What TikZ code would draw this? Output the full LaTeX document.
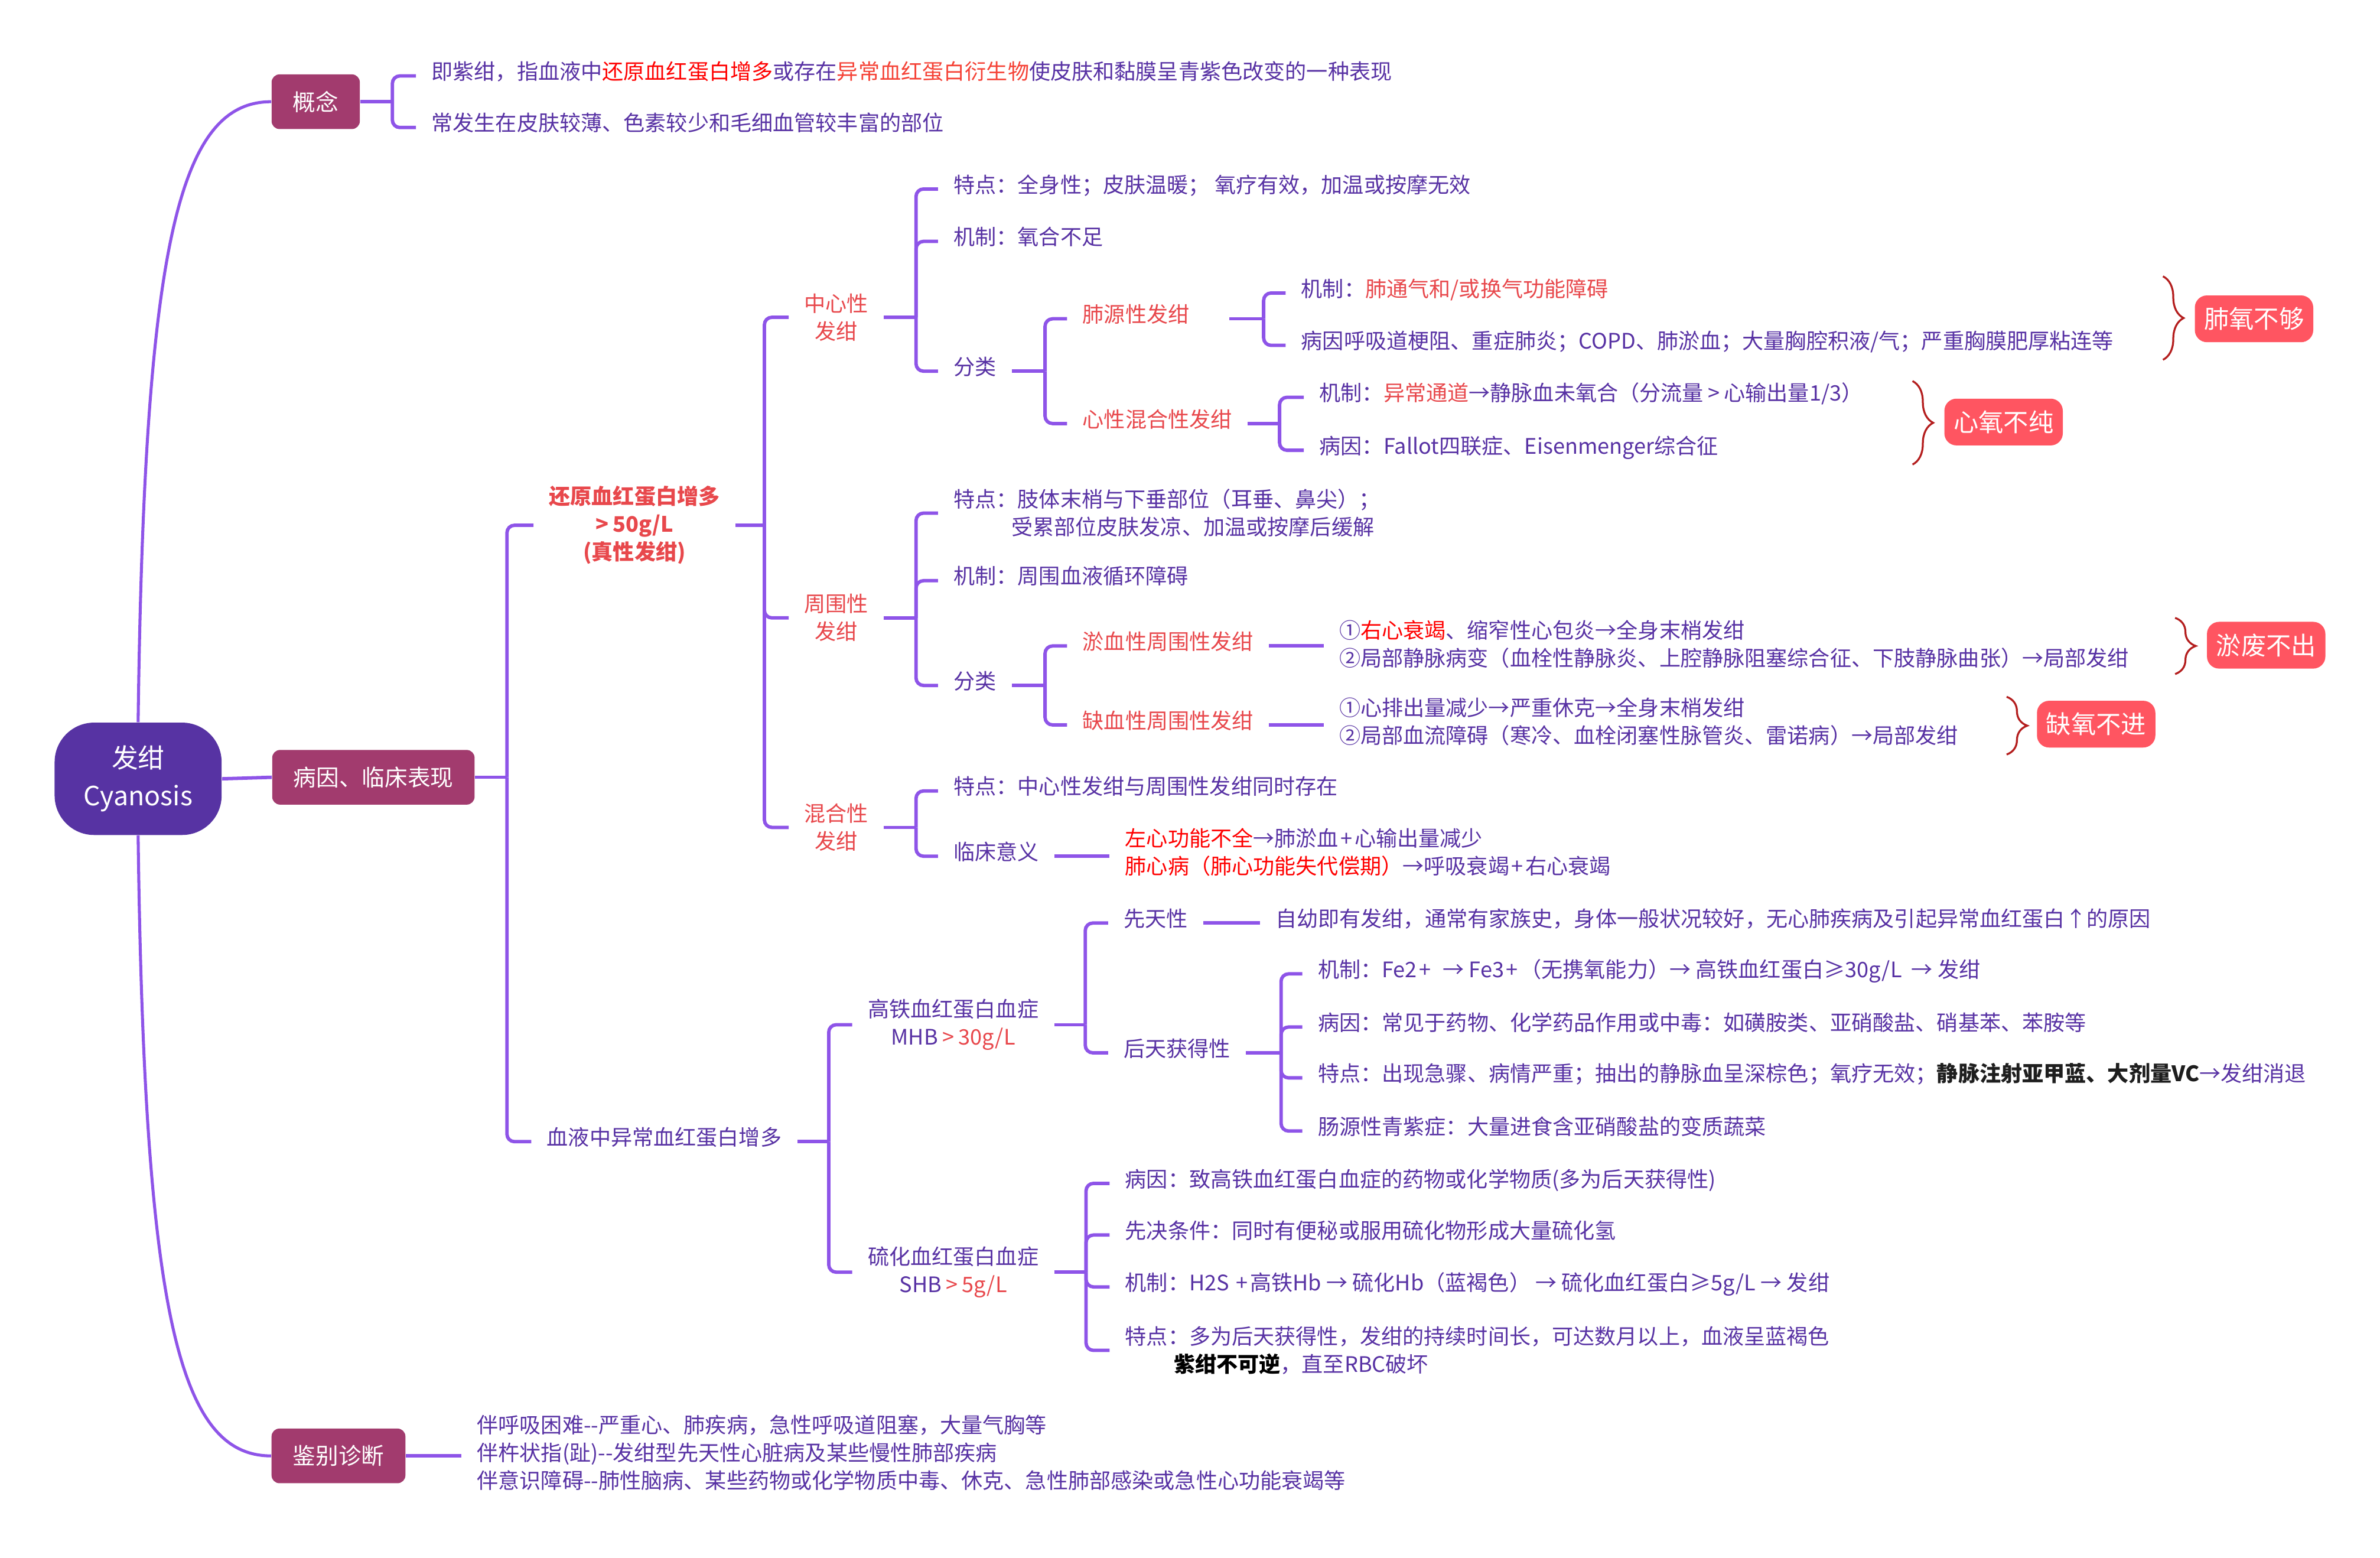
\documentclass[tikz,border=0pt]{standalone}
\usepackage{fontspec}
\setmainfont{Noto Sans CJK SC}
\usetikzlibrary{decorations.pathreplacing}
\definecolor{ink}{RGB}{88,50,164}
\definecolor{wire}{RGB}{142,84,232}
\definecolor{rootpurple}{RGB}{87,51,163}
\definecolor{topicrose}{RGB}{162,59,110}
\definecolor{tagred}{RGB}{255,85,97}
\definecolor{headred}{RGB}{232,72,76}
\definecolor{hotred}{RGB}{255,0,0}
\definecolor{orred}{RGB}{245,66,54}
\definecolor{bracered}{RGB}{180,30,30}
\definecolor{darkbold}{RGB}{30,30,30}
\newcommand{\gtmark}{\hspace{0.2em}>\hspace{0.2em}}
\newcommand{\plusmark}{\hspace{0.1em}+\hspace{0.1em}}

\begin{document}
\begin{tikzpicture}[x=0.025cm, y=-0.025cm,
root/.style={rectangle, fill=rootpurple, text=white, minimum width=27.5mm, minimum height=18.5mm, rounded corners=6.5mm, align=center, font=\fontsize{12.4}{17.7}\selectfont},
topic/.style={rectangle, fill=topicrose, text=white, minimum height=9mm, inner xsep=3.5mm, rounded corners=1.3mm, font=\fontsize{10.7}{13}\selectfont},
txt/.style={anchor=west, inner xsep=2.5mm, inner ysep=0pt, text=ink, text height=8.8pt, text depth=5.4pt, font=\fontsize{10}{13}\selectfont},
redtxt/.style={txt, text=headred},
para/.style={anchor=west, inner xsep=2.5mm, inner ysep=0pt, text=ink, align=left, font=\fontsize{10}{13}\selectfont},
head/.style={inner xsep=2.5mm, inner ysep=0pt, text=headred, align=center, font=\fontsize{10}{13}\selectfont},
tag/.style={rectangle, fill=tagred, text=white, minimum width=19.5mm, minimum height=7.7mm, rounded corners=2mm, font=\fontsize{11.7}{14}\selectfont},
link/.style={draw=wire, line width=1.6pt},
fork/.style={draw=wire, line width=1.6pt, rounded corners=3.5pt},
curly/.style={draw=bracered, line width=0.9pt, decorate, decoration={brace, amplitude=3.4mm}}]

\fill[white] (0,0) rectangle (1568,1026);
\useasboundingbox (0,0) rectangle (1568,1026);

\node[root] (root) at (91,513) {发绀\\Cyanosis};

\node[topic] (gn) at (208,67) {概念};

\node[topic] (by) at (246,512) {病因、临床表现};

\node[topic] (jb) at (223,959) {鉴别诊断};

\node[txt] (gn1) at (274,50) {即紫绀，指血液中{\color{hotred}还原血红蛋白增多}或存在{\color{orred}异常血红蛋白衍生物}使皮肤和黏膜呈青紫色改变的一种表现};

\node[txt] (gn2) at (274,84) {常发生在皮肤较薄、色素较少和毛细血管较丰富的部位};

\node[head, font=\fontsize{10}{13}\selectfont\bfseries] (hy) at (418,346) {还原血红蛋白增多\\>\hspace{0.2em}50g/L\\(真性发绀)};

\node[txt] (yc) at (350,752) {血液中异常血红蛋白增多};

\node[head] (zx) at (551,209) {中心性\\发绀};

\node[head] (zw) at (551,407) {周围性\\发绀};

\node[head] (hh) at (551,545) {混合性\\发绀};

\node[txt] (zx1) at (618,124.5) {特点：全身性；皮肤温暖； 氧疗有效，加温或按摩无效};

\node[txt] (zx2) at (618,159) {机制：氧合不足};

\node[txt] (zx3) at (618,244.5) {分类};

\node[redtxt] (fy) at (703,210) {肺源性发绀};

\node[redtxt] (xx) at (703,279) {心性混合性发绀};

\node[txt] (fy1) at (847,193) {机制：{\color{headred}肺通气和/或换气功能障碍}};

\node[txt] (fy2) at (847,227.5) {病因呼吸道梗阻、重症肺炎；COPD、肺淤血；大量胸腔积液/气；严重胸膜肥厚粘连等};

\node[txt] (xx1) at (859,261.7) {机制：{\color{headred}异常通道}→静脉血未氧合（分流量\gtmark 心输出量1/3）};

\node[txt] (xx2) at (859,296.6) {病因：Fallot四联症、Eisenmenger综合征};

\node[para] (zw1) at (618,338) {特点：肢体末梢与下垂部位（耳垂、鼻尖）；\\\hspace*{9.5mm}受累部位皮肤发凉、加温或按摩后缓解};

\node[txt] (zw2) at (618,382.5) {机制：周围血液循环障碍};

\node[txt] (zw3) at (618,451.5) {分类};

\node[redtxt] (yx) at (703,425.5) {淤血性周围性发绀};

\node[redtxt] (qx) at (703,477.5) {缺血性周围性发绀};

\node[para] (yx1) at (872,424.5) {①{\color{hotred}右心衰竭}、缩窄性心包炎→全身末梢发绀\\②局部静脉病变（血栓性静脉炎、上腔静脉阻塞综合征、下肢静脉曲张）→局部发绀};

\node[para] (qx1) at (872,475.5) {①心排出量减少→严重休克→全身末梢发绀\\②局部血流障碍（寒冷、血栓闭塞性脉管炎、雷诺病）→局部发绀};

\node[txt] (hh1) at (618,521) {特点：中心性发绀与周围性发绀同时存在};

\node[txt] (hh2) at (618,564) {临床意义};

\node[para] (hh3) at (731,561.5) {{\color{hotred}左心功能不全}→肺淤血\plusmark 心输出量减少\\{\color{hotred}肺心病（肺心功能失代偿期）}→呼吸衰竭\plusmark 右心衰竭};

\node[head, text=ink] (gt) at (628,675) {高铁血红蛋白血症\\MHB{\color{headred}\gtmark 30g/L}};

\node[head, text=ink] (lh) at (628,838) {硫化血红蛋白血症\\SHB{\color{headred}\gtmark 5g/L}};

\node[txt] (xt) at (730,608) {先天性};

\node[txt] (xt1) at (830,608) {自幼即有发绀，通常有家族史，身体一般状况较好，无心肺疾病及引起异常血红蛋白↑的原因};

\node[txt] (ht) at (730,693.5) {后天获得性};

\node[txt] (ht1) at (858,641.5) {机制：Fe2\plusmark\ \ → Fe3\plusmark（无携氧能力）→ 高铁血红蛋白≥30g/L\ \ → 发绀};

\node[txt] (ht2) at (858,676.5) {病因：常见于药物、化学药品作用或中毒：如磺胺类、亚硝酸盐、硝基苯、苯胺等};

\node[txt] (ht3) at (858,710) {特点：出现急骤、病情严重；抽出的静脉血呈深棕色；氧疗无效；{\bfseries\color{darkbold}静脉注射亚甲蓝、大剂量VC}→发绀消退};

\node[txt] (ht4) at (858,745) {肠源性青紫症：大量进食含亚硝酸盐的变质蔬菜};

\node[txt] (lh1) at (731,779.5) {病因：致高铁血红蛋白血症的药物或化学物质(多为后天获得性)};

\node[txt] (lh2) at (731,813.5) {先决条件：同时有便秘或服用硫化物形成大量硫化氢};

\node[txt] (lh3) at (731,847.7) {机制：H2S \plusmark 高铁Hb → 硫化Hb（蓝褐色） → 硫化血红蛋白≥5g/L → 发绀};

\node[para] (lh4) at (731,889.5) {特点：多为后天获得性，发绀的持续时间长，可达数月以上，血液呈蓝褐色\\\hspace*{8mm}{\bfseries\color{black}紫绀不可逆}，直至RBC破坏};

\node[para] (jb1) at (304,957) {伴呼吸困难-{}-严重心、肺疾病，急性呼吸道阻塞，大量气胸等\\伴杵状指(趾)-{}-发绀型先天性心脏病及某些慢性肺部疾病\\伴意识障碍-{}-肺性脑病、某些药物或化学物质中毒、休克、急性肺部感染或急性心功能衰竭等};

\node[tag] (t1) at (1485,210) {肺氧不够};

\node[tag] (t2) at (1320,278) {心氧不纯};

\node[tag] (t3) at (1493,425) {淤废不出};

\node[tag] (t4) at (1381,477) {缺氧不进};

\coordinate (sgn) at (258.5,0);
\coordinate (sby) at (334,0);
\coordinate (shy) at (503.6,0);
\coordinate (szx) at (603.5,0);
\coordinate (szx3) at (688.5,0);
\coordinate (sfy) at (832.5,0);
\coordinate (sxx) at (843,0);
\coordinate (szw) at (603.5,0);
\coordinate (szw3) at (688.5,0);
\coordinate (shh) at (603.5,0);
\coordinate (syc) at (546,0);
\coordinate (sgt) at (715,0);
\coordinate (sht) at (844,0);
\coordinate (slh) at (715.5,0);

\coordinate (c1a) at (1425,182); \coordinate (c1b) at (1425,237);
\coordinate (c2a) at (1260,251); \coordinate (c2b) at (1260,306);
\coordinate (c3a) at (1433,407); \coordinate (c3b) at (1433,444);
\coordinate (c4a) at (1322,459); \coordinate (c4b) at (1322,497);

\draw[link] (root.east) -- (by.west);

\draw[link, line width=1.4pt] (root.north) .. controls (95,160) and (118,67) .. (gn.west);

\draw[link, line width=1.4pt] (root.south) .. controls (95,866) and (118,959) .. (jb.west);

\draw[link] (gn.east) -- (gn.east -| sgn);
\draw[fork] (gn.east -| sgn) |- (gn1.west);
\draw[fork] (gn.east -| sgn) |- (gn2.west);

\draw[link] (by.east) -- (by.east -| sby);
\draw[fork] (by.east -| sby) |- (hy.west);
\draw[fork] (by.east -| sby) |- (yc.west);

\draw[link] (hy.east) -- (hy.east -| shy);
\draw[fork] (hy.east -| shy) |- (zx.west);
\draw[fork] (hy.east -| shy) |- (zw.west);
\draw[fork] (hy.east -| shy) |- (hh.west);

\draw[link] (zx.east) -- (zx.east -| szx);
\draw[fork] (zx.east -| szx) |- (zx1.west);
\draw[fork] (zx.east -| szx) |- (zx2.west);
\draw[fork] (zx.east -| szx) |- (zx3.west);

\draw[link] (zx3.east) -- (zx3.east -| szx3);
\draw[fork] (zx3.east -| szx3) |- (fy.west);
\draw[fork] (zx3.east -| szx3) |- (xx.west);

\draw[link] ([xshift=4mm]fy.east) -- (fy.east -| sfy);
\draw[fork] (fy.east -| sfy) |- (fy1.west);
\draw[fork] (fy.east -| sfy) |- (fy2.west);

\draw[link] (xx.east) -- (xx.east -| sxx);
\draw[fork] (xx.east -| sxx) |- (xx1.west);
\draw[fork] (xx.east -| sxx) |- (xx2.west);

\draw[link] (zw.east) -- (zw.east -| szw);
\draw[fork] (zw.east -| szw) |- (zw1.west);
\draw[fork] (zw.east -| szw) |- (zw2.west);
\draw[fork] (zw.east -| szw) |- (zw3.west);

\draw[link] (zw3.east) -- (zw3.east -| szw3);
\draw[fork] (zw3.east -| szw3) |- (yx.west);
\draw[fork] (zw3.east -| szw3) |- (qx.west);

\draw[link] (yx.east) -- (yx.east -| yx1.west);

\draw[link] (qx.east) -- (qx.east -| qx1.west);

\draw[link] (hh.east) -- (hh.east -| shh);
\draw[fork] (hh.east -| shh) |- (hh1.west);
\draw[fork] (hh.east -| shh) |- (hh2.west);

\draw[link] (hh2.east) -- (hh2.east -| hh3.west);

\draw[link] (yc.east) -- (yc.east -| syc);
\draw[fork] (yc.east -| syc) |- (gt.west);
\draw[fork] (yc.east -| syc) |- (lh.west);

\draw[link] (gt.east) -- (gt.east -| sgt);
\draw[fork] (gt.east -| sgt) |- (xt.west);
\draw[fork] (gt.east -| sgt) |- (ht.west);

\draw[link] (xt.east) -- (xt1.west);

\draw[link] (ht.east) -- (ht.east -| sht);
\draw[fork] (ht.east -| sht) |- (ht1.west);
\draw[fork] (ht.east -| sht) |- (ht2.west);
\draw[fork] (ht.east -| sht) |- (ht3.west);
\draw[fork] (ht.east -| sht) |- (ht4.west);

\draw[link] (lh.east) -- (lh.east -| slh);
\draw[fork] (lh.east -| slh) |- (lh1.west);
\draw[fork] (lh.east -| slh) |- (lh2.west);
\draw[fork] (lh.east -| slh) |- (lh3.west);
\draw[fork] (lh.east -| slh) |- (lh4.west);

\draw[link] (jb.east) -- (jb.east -| jb1.west);

\draw[curly] (c1a) -- (c1b);

\draw[curly] (c2a) -- (c2b);

\draw[curly] (c3a) -- (c3b);

\draw[curly] (c4a) -- (c4b);

\end{tikzpicture}
\end{document}
